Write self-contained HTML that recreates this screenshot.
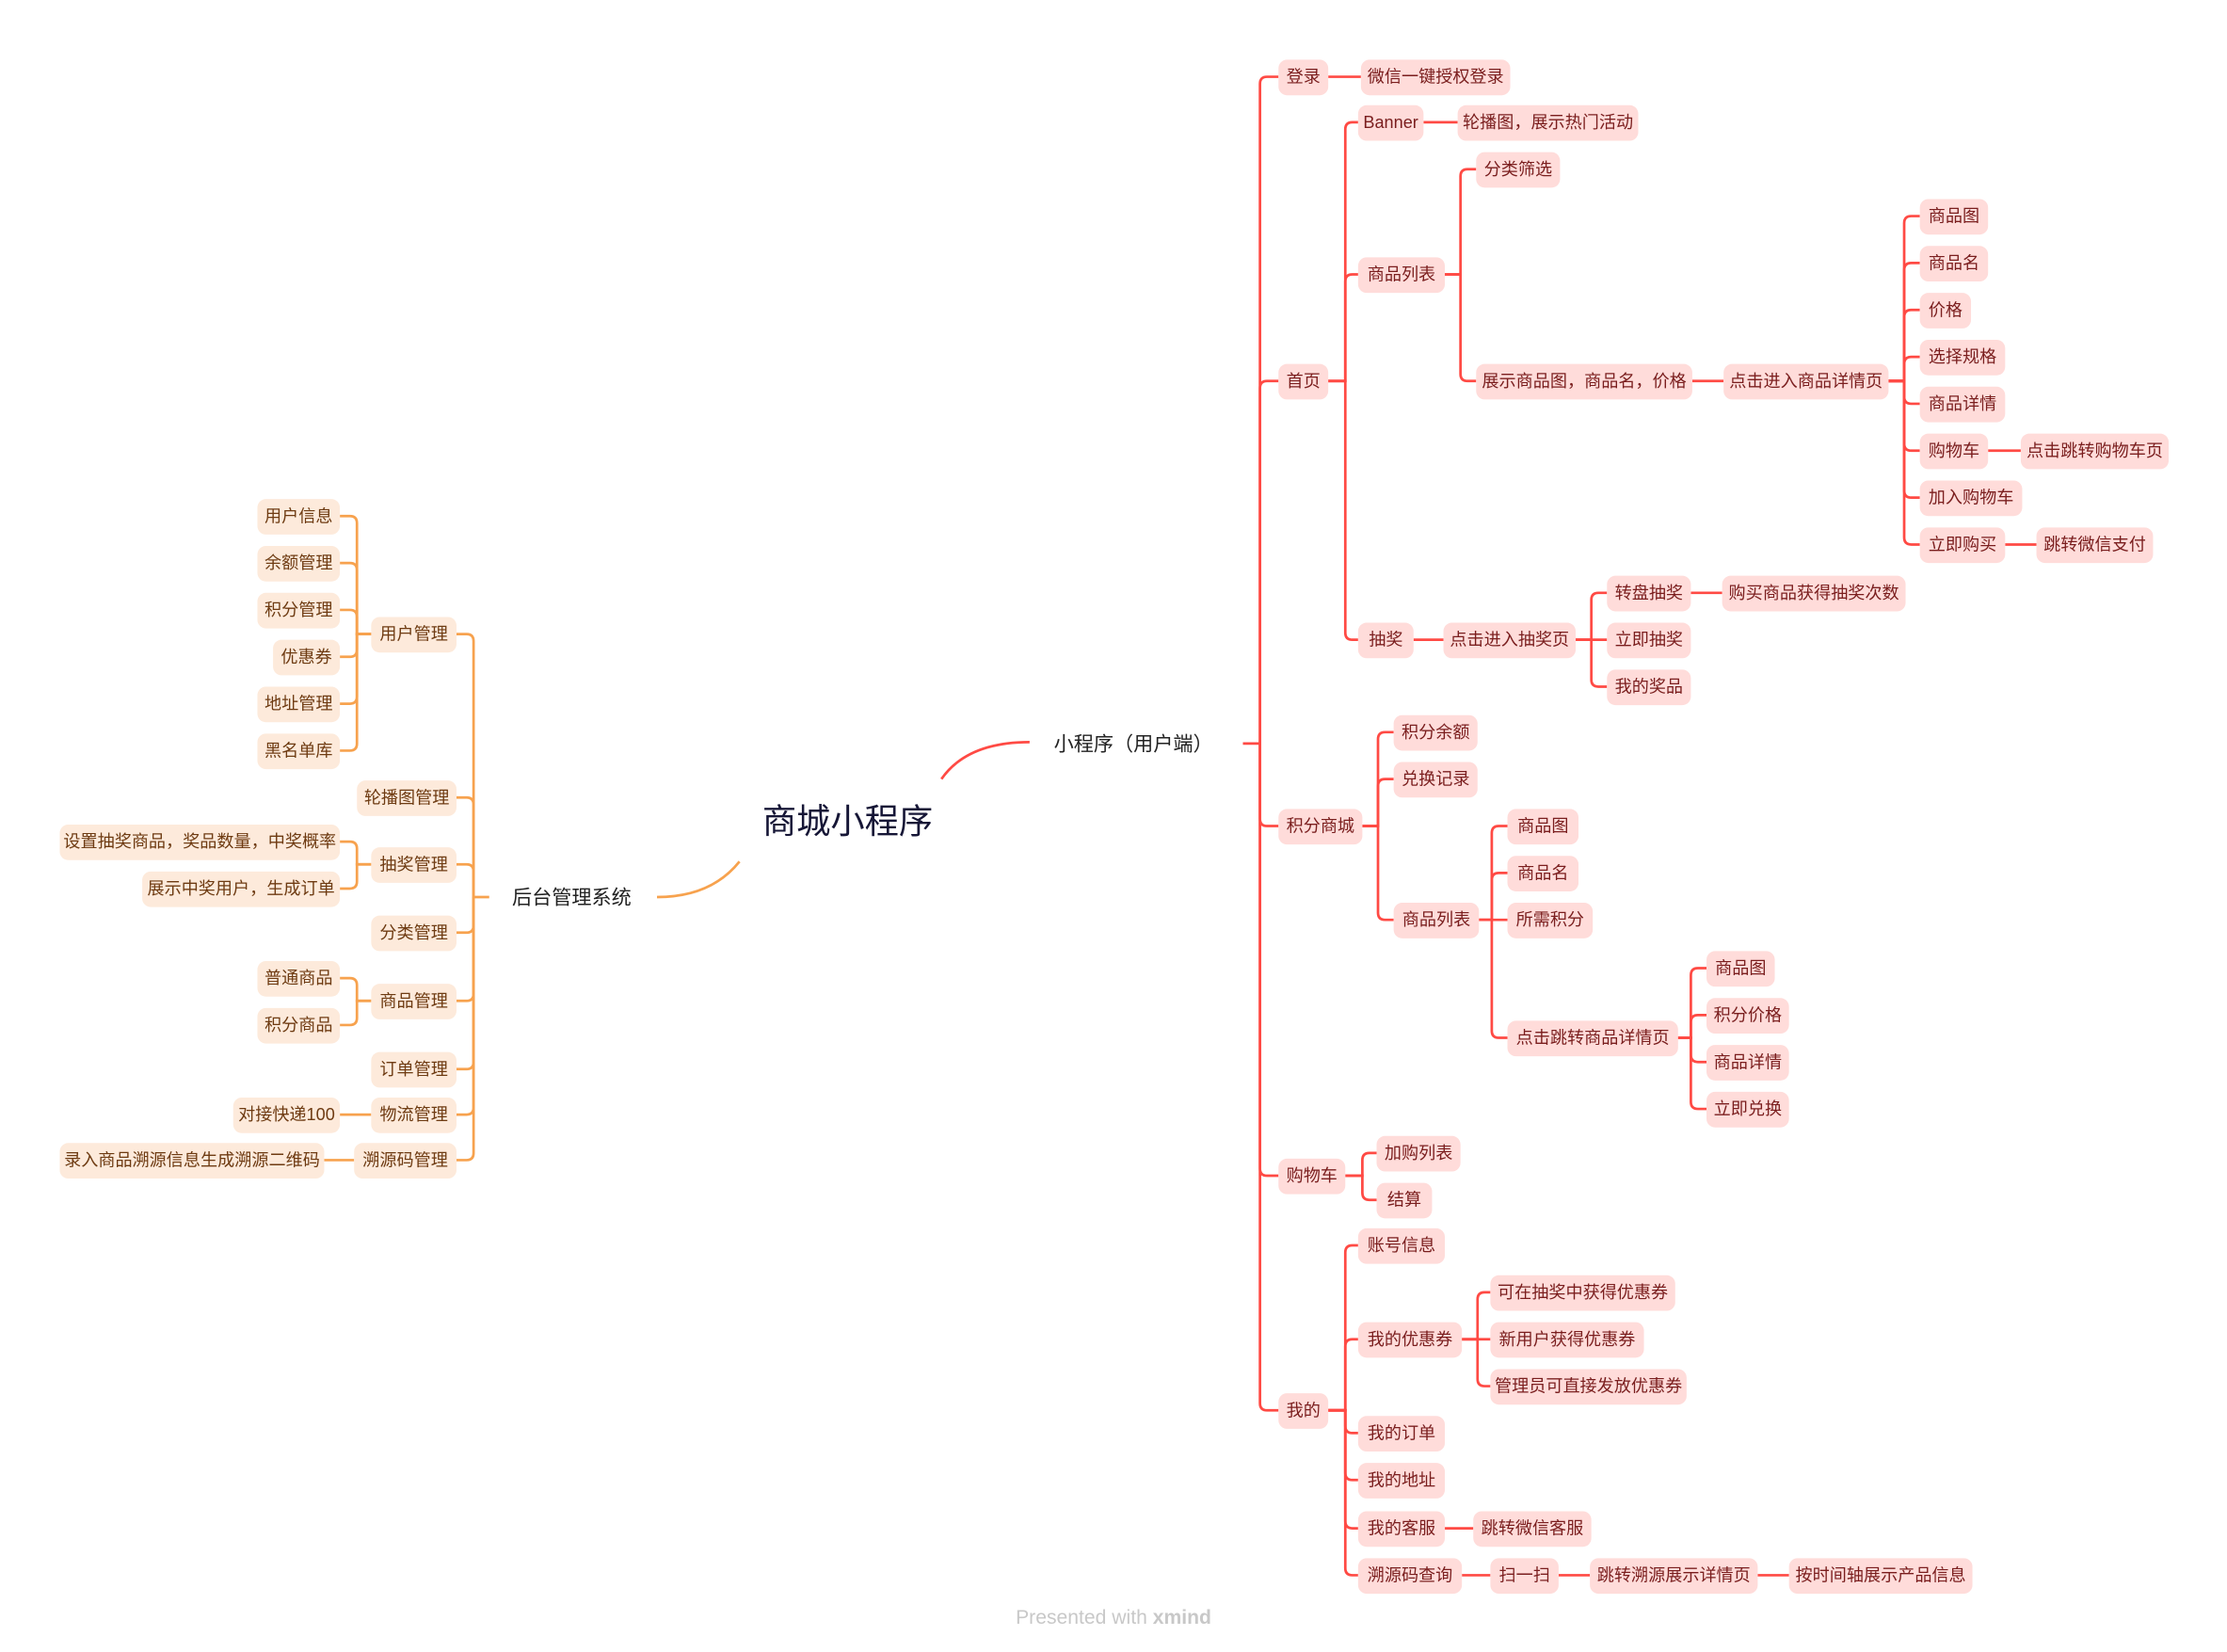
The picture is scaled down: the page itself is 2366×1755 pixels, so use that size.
<!DOCTYPE html>
<html><head><meta charset="utf-8"><style>
html,body{margin:0;padding:0;background:#fff;width:2366px;height:1755px;overflow:hidden}
svg{display:block}
text{font-family:"Liberation Sans","Noto Sans CJK SC",sans-serif}
.r rect{fill:#ffdcda}
.r text{fill:#7a1e1e;font-size:12px;text-anchor:middle}
.o rect{fill:#fdeadb}
.o text{fill:#6e3b12;font-size:12px;text-anchor:middle}
.rl{fill:none;stroke:#ff4a44;stroke-width:1.8}
.ol{fill:none;stroke:#f7a24e;stroke-width:1.8}
</style></head><body>
<svg width="2366" height="1755" viewBox="0 0 1566 1162" preserveAspectRatio="none" xmlns="http://www.w3.org/2000/svg">
<g class="rl">
<path d="M662 548 Q680 522 724 522"/>
<path d="M874 523 H886"/>
<path d="M886 523 V59 Q886 54 891 54 H899"/>
<path d="M886 523 V273 Q886 268 891 268 H899"/>
<path d="M886 523 V576 Q886 581 891 581 H899"/>
<path d="M886 523 V822 Q886 827 891 827 H899"/>
<path d="M886 523 V987 Q886 992 891 992 H899"/>
<path d="M934 54 H957"/>
<path d="M934 268 H946 V91 Q946 86 951 86 H955"/>
<path d="M934 268 H946 V198 Q946 193 951 193 H955"/>
<path d="M934 268 H946 V445 Q946 450 951 450 H955"/>
<path d="M1001 86 H1025"/>
<path d="M1016 193 H1027 V124 Q1027 119 1032 119 H1038"/>
<path d="M1016 193 H1027 V263 Q1027 268 1032 268 H1038"/>
<path d="M1190 268 H1212"/>
<path d="M1328 268 H1339 V157 Q1339 152 1344 152 H1350"/>
<path d="M1328 268 H1339 V190 Q1339 185 1344 185 H1350"/>
<path d="M1328 268 H1339 V223 Q1339 218 1344 218 H1350"/>
<path d="M1328 268 H1339 V256 Q1339 251 1344 251 H1350"/>
<path d="M1328 268 H1339 V279 Q1339 284 1344 284 H1350"/>
<path d="M1328 268 H1339 V312 Q1339 317 1344 317 H1350"/>
<path d="M1328 268 H1339 V345 Q1339 350 1344 350 H1350"/>
<path d="M1328 268 H1339 V378 Q1339 383 1344 383 H1350"/>
<path d="M1398 317 H1421"/>
<path d="M1410 383 H1432"/>
<path d="M994 450 H1015"/>
<path d="M1108 450 H1119 V422 Q1119 417 1124 417 H1130"/>
<path d="M1108 450 H1130"/>
<path d="M1108 450 H1119 V478 Q1119 483 1124 483 H1130"/>
<path d="M1189 417 H1211"/>
<path d="M958 581 H969 V520 Q969 515 974 515 H980"/>
<path d="M958 581 H969 V553 Q969 548 974 548 H980"/>
<path d="M958 581 H969 V642 Q969 647 974 647 H980"/>
<path d="M1040 647 H1049 V586 Q1049 581 1054 581 H1060"/>
<path d="M1040 647 H1049 V619 Q1049 614 1054 614 H1060"/>
<path d="M1040 647 H1060"/>
<path d="M1040 647 H1049 V725 Q1049 730 1054 730 H1060"/>
<path d="M1180 730 H1189 V686 Q1189 681 1194 681 H1200"/>
<path d="M1180 730 H1189 V719 Q1189 714 1194 714 H1200"/>
<path d="M1180 730 H1189 V742 Q1189 747 1194 747 H1200"/>
<path d="M1180 730 H1189 V775 Q1189 780 1194 780 H1200"/>
<path d="M946 827 H958 V816 Q958 811 963 811 H968"/>
<path d="M946 827 H958 V839 Q958 844 963 844 H968"/>
<path d="M934 992 H946 V881 Q946 876 951 876 H955"/>
<path d="M934 992 H946 V947 Q946 942 951 942 H955"/>
<path d="M934 992 H946 V1003 Q946 1008 951 1008 H955"/>
<path d="M934 992 H946 V1036 Q946 1041 951 1041 H955"/>
<path d="M934 992 H946 V1070 Q946 1075 951 1075 H955"/>
<path d="M934 992 H946 V1103 Q946 1108 951 1108 H955"/>
<path d="M1028 942 H1039 V914 Q1039 909 1044 909 H1048"/>
<path d="M1028 942 H1048"/>
<path d="M1028 942 H1039 V970 Q1039 975 1044 975 H1048"/>
<path d="M1016 1075 H1036"/>
<path d="M1028 1108 H1048"/>
<path d="M1096 1108 H1118"/>
<path d="M1236 1108 H1258"/>
</g>
<g class="ol">
<path d="M520 606 Q500 631 462 631"/>
<path d="M344 631 H333"/>
<path d="M333 631 V451 Q333 446 328 446 H321"/>
<path d="M333 631 V566 Q333 561 328 561 H321"/>
<path d="M333 631 V613 Q333 608 328 608 H321"/>
<path d="M333 631 V651 Q333 656 328 656 H321"/>
<path d="M333 631 V699 Q333 704 328 704 H321"/>
<path d="M333 631 V747 Q333 752 328 752 H321"/>
<path d="M333 631 V779 Q333 784 328 784 H321"/>
<path d="M333 631 V811 Q333 816 328 816 H321"/>
<path d="M261 446 H251 V368 Q251 363 246 363 H239"/>
<path d="M261 446 H251 V401 Q251 396 246 396 H239"/>
<path d="M261 446 H251 V434 Q251 429 246 429 H239"/>
<path d="M261 446 H251 V457 Q251 462 246 462 H239"/>
<path d="M261 446 H251 V490 Q251 495 246 495 H239"/>
<path d="M261 446 H251 V523 Q251 528 246 528 H239"/>
<path d="M261 608 H251 V597 Q251 592 246 592 H239"/>
<path d="M261 608 H251 V620 Q251 625 246 625 H239"/>
<path d="M261 704 H251 V693 Q251 688 246 688 H239"/>
<path d="M261 704 H251 V716 Q251 721 246 721 H239"/>
<path d="M261 784 H239"/>
<path d="M249 816 H228"/>
</g>
<text x="596" y="586" font-size="24" fill="#161636" text-anchor="middle">商城小程序</text>
<text x="797" y="528" font-size="14" fill="#222" text-anchor="middle">小程序（用户端）</text>
<text x="402" y="636" font-size="14" fill="#222" text-anchor="middle">后台管理系统</text>
<g class="r">
<rect x="899" y="42" width="35" height="25" rx="6"/><text x="916.5" y="58">登录</text>
<rect x="957" y="42" width="105" height="25" rx="6"/><text x="1009.5" y="58">微信一键授权登录</text>
<rect x="899" y="256" width="35" height="25" rx="6"/><text x="916.5" y="272">首页</text>
<rect x="955" y="74" width="46" height="25" rx="6"/><text x="978" y="90">Banner</text>
<rect x="1025" y="74" width="127" height="25" rx="6"/><text x="1088.5" y="90">轮播图，展示热门活动</text>
<rect x="955" y="181" width="61" height="25" rx="6"/><text x="985.5" y="197">商品列表</text>
<rect x="1038" y="107" width="59" height="25" rx="6"/><text x="1067.5" y="123">分类筛选</text>
<rect x="1038" y="256" width="152" height="25" rx="6"/><text x="1114" y="272">展示商品图，商品名，价格</text>
<rect x="1212" y="256" width="116" height="25" rx="6"/><text x="1270" y="272">点击进入商品详情页</text>
<rect x="1350" y="140" width="48" height="25" rx="6"/><text x="1374" y="156">商品图</text>
<rect x="1350" y="173" width="48" height="25" rx="6"/><text x="1374" y="189">商品名</text>
<rect x="1350" y="206" width="36" height="25" rx="6"/><text x="1368" y="222">价格</text>
<rect x="1350" y="239" width="60" height="25" rx="6"/><text x="1380" y="255">选择规格</text>
<rect x="1350" y="272" width="60" height="25" rx="6"/><text x="1380" y="288">商品详情</text>
<rect x="1350" y="305" width="48" height="25" rx="6"/><text x="1374" y="321">购物车</text>
<rect x="1421" y="305" width="104" height="25" rx="6"/><text x="1473" y="321">点击跳转购物车页</text>
<rect x="1350" y="338" width="72" height="25" rx="6"/><text x="1386" y="354">加入购物车</text>
<rect x="1350" y="371" width="60" height="25" rx="6"/><text x="1380" y="387">立即购买</text>
<rect x="1432" y="371" width="82" height="25" rx="6"/><text x="1473" y="387">跳转微信支付</text>
<rect x="955" y="438" width="39" height="25" rx="6"/><text x="974.5" y="454">抽奖</text>
<rect x="1015" y="438" width="93" height="25" rx="6"/><text x="1061.5" y="454">点击进入抽奖页</text>
<rect x="1130" y="405" width="59" height="25" rx="6"/><text x="1159.5" y="421">转盘抽奖</text>
<rect x="1211" y="405" width="129" height="25" rx="6"/><text x="1275.5" y="421">购买商品获得抽奖次数</text>
<rect x="1130" y="438" width="59" height="25" rx="6"/><text x="1159.5" y="454">立即抽奖</text>
<rect x="1130" y="471" width="59" height="25" rx="6"/><text x="1159.5" y="487">我的奖品</text>
<rect x="899" y="569" width="59" height="25" rx="6"/><text x="928.5" y="585">积分商城</text>
<rect x="980" y="503" width="59" height="25" rx="6"/><text x="1009.5" y="519">积分余额</text>
<rect x="980" y="536" width="59" height="25" rx="6"/><text x="1009.5" y="552">兑换记录</text>
<rect x="980" y="635" width="60" height="25" rx="6"/><text x="1010" y="651">商品列表</text>
<rect x="1060" y="569" width="50" height="25" rx="6"/><text x="1085" y="585">商品图</text>
<rect x="1060" y="602" width="50" height="25" rx="6"/><text x="1085" y="618">商品名</text>
<rect x="1060" y="635" width="60" height="25" rx="6"/><text x="1090" y="651">所需积分</text>
<rect x="1060" y="718" width="120" height="25" rx="6"/><text x="1120" y="734">点击跳转商品详情页</text>
<rect x="1200" y="669" width="48" height="25" rx="6"/><text x="1224" y="685">商品图</text>
<rect x="1200" y="702" width="58" height="25" rx="6"/><text x="1229" y="718">积分价格</text>
<rect x="1200" y="735" width="58" height="25" rx="6"/><text x="1229" y="751">商品详情</text>
<rect x="1200" y="768" width="58" height="25" rx="6"/><text x="1229" y="784">立即兑换</text>
<rect x="899" y="815" width="47" height="25" rx="6"/><text x="922.5" y="831">购物车</text>
<rect x="968" y="799" width="59" height="25" rx="6"/><text x="997.5" y="815">加购列表</text>
<rect x="968" y="832" width="39" height="25" rx="6"/><text x="987.5" y="848">结算</text>
<rect x="899" y="980" width="35" height="25" rx="6"/><text x="916.5" y="996">我的</text>
<rect x="955" y="864" width="61" height="25" rx="6"/><text x="985.5" y="880">账号信息</text>
<rect x="955" y="930" width="73" height="25" rx="6"/><text x="991.5" y="946">我的优惠券</text>
<rect x="1048" y="897" width="130" height="25" rx="6"/><text x="1113" y="913">可在抽奖中获得优惠券</text>
<rect x="1048" y="930" width="108" height="25" rx="6"/><text x="1102" y="946">新用户获得优惠券</text>
<rect x="1048" y="963" width="138" height="25" rx="6"/><text x="1117" y="979">管理员可直接发放优惠券</text>
<rect x="955" y="996" width="61" height="25" rx="6"/><text x="985.5" y="1012">我的订单</text>
<rect x="955" y="1029" width="61" height="25" rx="6"/><text x="985.5" y="1045">我的地址</text>
<rect x="955" y="1063" width="61" height="25" rx="6"/><text x="985.5" y="1079">我的客服</text>
<rect x="1036" y="1063" width="83" height="25" rx="6"/><text x="1077.5" y="1079">跳转微信客服</text>
<rect x="955" y="1096" width="73" height="25" rx="6"/><text x="991.5" y="1112">溯源码查询</text>
<rect x="1048" y="1096" width="48" height="25" rx="6"/><text x="1072" y="1112">扫一扫</text>
<rect x="1118" y="1096" width="118" height="25" rx="6"/><text x="1177" y="1112">跳转溯源展示详情页</text>
<rect x="1258" y="1096" width="129" height="25" rx="6"/><text x="1322.5" y="1112">按时间轴展示产品信息</text>
</g>
<g class="o">
<rect x="261" y="434" width="60" height="25" rx="6"/><text x="291" y="450">用户管理</text>
<rect x="251" y="549" width="70" height="25" rx="6"/><text x="286" y="565">轮播图管理</text>
<rect x="261" y="596" width="60" height="25" rx="6"/><text x="291" y="612">抽奖管理</text>
<rect x="261" y="644" width="60" height="25" rx="6"/><text x="291" y="660">分类管理</text>
<rect x="261" y="692" width="60" height="25" rx="6"/><text x="291" y="708">商品管理</text>
<rect x="261" y="740" width="60" height="25" rx="6"/><text x="291" y="756">订单管理</text>
<rect x="261" y="772" width="60" height="25" rx="6"/><text x="291" y="788">物流管理</text>
<rect x="249" y="804" width="72" height="25" rx="6"/><text x="285" y="820">溯源码管理</text>
<rect x="181" y="351" width="58" height="25" rx="6"/><text x="210" y="367">用户信息</text>
<rect x="181" y="384" width="58" height="25" rx="6"/><text x="210" y="400">余额管理</text>
<rect x="181" y="417" width="58" height="25" rx="6"/><text x="210" y="433">积分管理</text>
<rect x="192" y="450" width="47" height="25" rx="6"/><text x="215.5" y="466">优惠券</text>
<rect x="181" y="483" width="58" height="25" rx="6"/><text x="210" y="499">地址管理</text>
<rect x="181" y="516" width="58" height="25" rx="6"/><text x="210" y="532">黑名单库</text>
<rect x="42" y="580" width="197" height="25" rx="6"/><text x="140.5" y="596">设置抽奖商品，奖品数量，中奖概率</text>
<rect x="100" y="613" width="139" height="25" rx="6"/><text x="169.5" y="629">展示中奖用户，生成订单</text>
<rect x="181" y="676" width="58" height="25" rx="6"/><text x="210" y="692">普通商品</text>
<rect x="181" y="709" width="58" height="25" rx="6"/><text x="210" y="725">积分商品</text>
<rect x="164" y="772" width="75" height="25" rx="6"/><text x="201.5" y="788">对接快递100</text>
<rect x="42" y="804" width="186" height="25" rx="6"/><text x="135" y="820">录入商品溯源信息生成溯源二维码</text>
</g>
<text x="783" y="1142" font-size="14" fill="#c8c8c8" text-anchor="middle">Presented with <tspan font-weight="bold">xmind</tspan></text>
</svg>
</body></html>
